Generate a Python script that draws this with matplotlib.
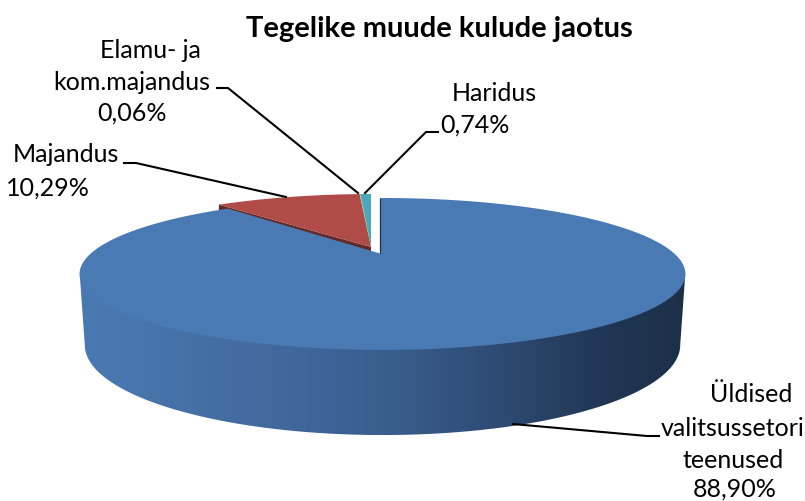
import numpy as np
import matplotlib
matplotlib.use('Agg')
import matplotlib.pyplot as plt
from matplotlib.colors import LinearSegmentedColormap
from matplotlib.patches import Polygon

plt.rcParams['font.family'] = ['Lato', 'DejaVu Sans']

# Chart data
categories = ['Üldised valitsussetori teenused', 'Majandus', 'Elamu- ja kom.majandus', 'Haridus']
values = [88.90, 10.29, 0.06, 0.74]
colors = ['#4A7AB4', '#B04C48', '#9BBB59', '#4BA6C0']
title = 'Tegelike muude kulude jaotus'

# Label lines: text, centre x, centre y (pixels)
label_lines = ['Üldised', 'valitsussetori', 'teenused', '88,90%',
               'Majandus', '10,29%',
               'Elamu- ja', 'kom.majandus', '0,06%',
               'Haridus', '0,74%']
label_x = [751, 733, 733, 735, 66, 48, 150, 132, 132, 494, 475]
label_y = [394, 428, 460, 489, 155, 188, 50, 82, 113, 93, 125]

# Leader lines
leaders = [
    ([659, 647, 513], [436, 436, 424]),
    ([124, 136, 286], [163, 163, 197]),
    ([217, 228, 358], [88, 88, 193]),
    ([438, 426, 365], [132, 132, 193]),
]

# Perspective of the pie disc
cx, cy = 382.5, 252
apex_x = 380
R, H, k = 290, 69.6, 0.289
cx_b, cy_b = 382.5, 319
R_b, H_b = 285, 82.5
shift = (-9, -4)  # exploded slices
start_angle = np.pi / 2 + 0.011


def disc(theta, cx=cx, cy=cy, R=R, H=H):
    d = 1 + k * np.sin(theta)
    return cx + R * np.cos(theta) / d, cy - H * np.sin(theta) / d


def wedge(a0, a1, dx=0, dy=0, apex_y=cy):
    t = np.linspace(a0, a1, 300)
    x, y = disc(t)
    x = np.r_[apex_x, x] + dx
    y = np.r_[apex_y, y + dy]
    return np.c_[x, y]


fig = plt.figure(figsize=(8.05, 5.01), dpi=100)
ax = fig.add_axes([0, 0, 1, 1])
ax.set_xlim(0, 805)
ax.set_ylim(501, 0)
ax.axis('off')

# Slice angles, clockwise from the top
bounds = start_angle - 2 * np.pi * np.cumsum([0] + values) / sum(values)

# Side wall with gradient, top edge tucked under the top surface
side_start = np.pi + np.arcsin(k)
side_end = 2 * np.pi - np.arcsin(k)
t = np.linspace(side_start, side_end, 300)
xt, yt = disc(t)
xb, yb = disc(t[::-1], cx_b, cy_b, R_b, H_b)
side = Polygon(np.c_[np.r_[xt, xb], np.r_[yt - 2, yb]], closed=True, fc='none', ec='none')
ax.add_patch(side)
grad = LinearSegmentedColormap.from_list('side', [
    (0.0, '#4A7AB3'), (0.3, '#416A9F'), (0.5, '#3A5F8F'),
    (0.7, '#2D4A72'), (0.87, '#203653'), (1.0, '#1D3049')])
img = ax.imshow(np.linspace(0, 1, 256).reshape(1, -1), cmap=grad, extent=(79, 686, 440, 270),
                aspect='auto', zorder=1)
img.set_clip_path(side)

# Exploded slices, dark cut wall of the red one first
dx, dy = shift
wall_x, wall_y = disc(bounds[1])
wall = [[apex_x + dx, 247], [wall_x + dx, wall_y + dy],
        [wall_x + dx, wall_y + dy + 8], [apex_x + dx, 255]]
ax.add_patch(Polygon(wall, fc='#642A28', ec='none', zorder=2))
for i in (1, 2, 3):
    ax.add_patch(Polygon(wedge(bounds[i], bounds[i + 1], dx, dy, apex_y=247), fc=colors[i], ec='none', zorder=3))

# Main slice on top
ax.add_patch(Polygon(wedge(bounds[0], bounds[1], apex_y=253.5), fc=colors[0], ec='none', zorder=4))
ax.plot([apex_x, apex_x], [cy - 53, cy + 1], color='#1F3350', lw=0.9, zorder=4)

for lx, ly in leaders:
    ax.plot(lx, ly, color='black', lw=1.5, zorder=5, solid_joinstyle='round')

for line, x, y in zip(label_lines, label_x, label_y):
    ax.text(x, y, line, fontsize=18, color='black', ha='center', va='center', zorder=6)

ax.text(439, 29, title, fontsize=21, fontweight='bold', color='black', ha='center', va='center')

fig.savefig('out.png', dpi=100)
